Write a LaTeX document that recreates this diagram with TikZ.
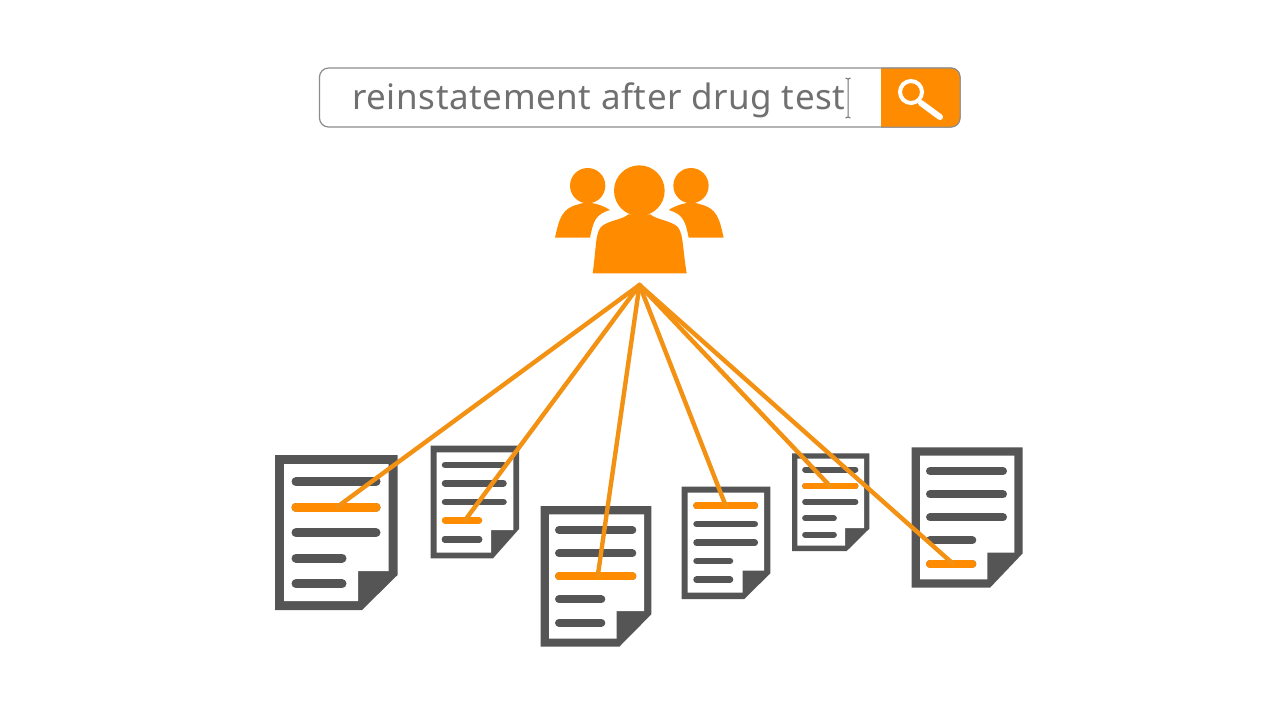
\documentclass[tikz,border=0pt]{standalone}
\usepackage{fontspec}
\setmainfont{Noto Sans}[LetterSpace=1.6]
\definecolor{orangeA}{HTML}{FF8C00}
\definecolor{lineA}{HTML}{F39113}
\definecolor{darkA}{HTML}{555555}
\definecolor{textA}{HTML}{707070}
\definecolor{borderA}{HTML}{8C8C8C}
\tikzset{
  px/.style={x=0.5pt,y=-0.5pt},
  docbar/.style={line cap=round,draw=darkA},
  hot/.style={line cap=round,draw=orangeA},
  link/.style={draw=lineA,line width=2.2pt,line cap=round},
  person/.style={fill=orangeA},
}
\newcommand{\docshape}[8]{%
  \fill[darkA] (#1,#2) -- (#3,#2) -- (#3,\cuty) -- (\cutx,#4) -- (#1,#4) -- cycle;
  \fill[white] (#5,#6) -- (#7,#6) -- (#7,\foldy) -- (\foldx,\foldy) -- (\foldx,#8) -- (#5,#8) -- cycle;
}
\newcommand{\docbars}[9]{%
  \draw[docbar,line width=#4*0.5pt] (#1,#5) -- (#2,#5);
  \draw[docbar,line width=#4*0.5pt] (#1,#6) -- (#2,#6);
  \draw[docbar,line width=#4*0.5pt] (#1,#7) -- (#2,#7);
  \draw[docbar,line width=#4*0.5pt] (#1,#8) -- (#3,#8);
  \draw[docbar,line width=#4*0.5pt] (#1,#9) -- (#3,#9);
}
\begin{document}
\begin{tikzpicture}[px]
\useasboundingbox (0,0) rectangle (1280,720);
\fill[white] (0,0) rectangle (1280,720);

% search bar
\draw[borderA,line width=0.6pt,fill=white,rounded corners=4.5pt] (319.5,68) rectangle (960,127);
\fill[orangeA,rounded corners=4.5pt] (881,68) -- (960,68) -- (960,127) -- (881,127) [sharp corners] -- cycle;
\fill[orangeA] (881,68) rectangle (895,127);
\draw[borderA,line width=0.5pt,rounded corners=4.5pt] (881,68) -- (960,68) -- (960,127) -- (881,127);
\node[anchor=base west,inner sep=0pt,text=textA,font=\fontsize{17.5}{20}\selectfont] (query) at (352,109) {reinstatement after drug test};
\draw[draw=textA,line width=0.5pt] (848,79) -- (848,117) (845.5,78) -- (848,79) -- (850.5,78) (845.5,118) -- (848,117) -- (850.5,118);
% magnifier
\draw[white,line width=2pt] (911,92) circle (11);
\draw[white,line width=3pt,line cap=round] (921,103) -- (940,117);

% people
\begin{scope}[shift={(540,155)},x=0.16667pt,y=-0.16667pt]
  \fill[person] (143,92) circle (53);
  \fill[person] (45,248) .. controls (58,190) and (65,160) .. (115,148)
     .. controls (135,140) and (170,140) .. (210,165)
     .. controls (165,178) and (160,200) .. (150,248) -- cycle;
  \fill[person] (453,92) circle (53);
  \fill[person] (551,248) .. controls (538,190) and (531,160) .. (481,148)
     .. controls (461,140) and (426,140) .. (386,165)
     .. controls (431,178) and (436,200) .. (446,248) -- cycle;
  \fill[person] (298,107) circle (76);
  \fill[person] (158,355) .. controls (170,270) and (165,225) .. (190,210)
     .. controls (215,195) and (250,192) .. (265,178)
     -- (331,178)
     .. controls (346,192) and (381,195) .. (406,210)
     .. controls (431,225) and (426,270) .. (440,355) -- cycle;
\end{scope}

% doc 1
\def\cuty{575}\def\cutx{362}\def\foldx{358}\def\foldy{571}
\docshape{275}{455}{397.5}{610}{284}{464}{388.5}{601}
\docbars{296}{376}{342}{9}{481.7}{507}{532.7}{558}{583.7}
\draw[hot,line width=4.5pt] (296,507) -- (376,507);
\coordinate (hit1) at (337,507);
% doc 2
\def\cuty{529}\def\cutx{493}\def\foldx{491}\def\foldy{530}
\docshape{430.7}{445.7}{519}{558.3}{436.7}{452.3}{513.3}{552.7}
\docbars{445}{503.5}{479}{6.5}{465}{483.3}{502}{539.3}{539.3}
\draw[hot,line width=3.25pt] (445,520.3) -- (479,520.3);
\coordinate (hit2) at (465,520.3);
% doc 3
\def\cuty{614.3}\def\cutx{619.3}\def\foldx{616.7}\def\foldy{611}
\docshape{540.7}{506}{651.3}{646.7}{549}{514.3}{644}{638.7}
\docbars{559}{632.3}{601.3}{8}{530}{553.3}{576.3}{599.3}{622.7}
\draw[hot,line width=4pt] (559,576.3) -- (632.3,576.3);
\coordinate (hit3) at (597.7,576.3);
% doc 4
\def\cuty{573.3}\def\cutx{744.3}\def\foldx{742.7}\def\foldy{570.7}
\docshape{681.7}{486.7}{770.3}{599}{687.7}{492.7}{764}{592.7}
\docbars{696.5}{754.8}{730}{6.5}{505.7}{524}{542.7}{561}{579.7}
\draw[hot,line width=3.25pt] (696.5,505.7) -- (754.8,505.7);
\coordinate (hit4) at (725.7,505.7);
% doc 5
\def\cuty{528.7}\def\cutx{846.7}\def\foldx{845}\def\foldy{528}
\docshape{792}{453.3}{869.3}{551}{797.3}{458.7}{864}{545.7}
\docbars{805}{855.5}{834}{5.7}{469.7}{486}{502}{518.3}{534.7}
\draw[hot,line width=2.85pt] (805,486) -- (855.5,486);
\coordinate (hit5) at (830,486);
% doc 6
\def\cuty{553.3}\def\cutx{990}\def\foldx{987.3}\def\foldy{552.7}
\docshape{911.7}{447.3}{1022.7}{587.7}{920}{455.7}{1014.3}{579.3}
\docbars{930}{1003}{972.3}{8}{471}{494.3}{517.3}{540.3}{563.7}
\draw[hot,line width=4pt] (930,563.7) -- (972.3,563.7);
\coordinate (hit6) at (953,563.7);

% connectors
\coordinate (hub) at (639.5,285);
\foreach \t in {1,...,6} \draw[link] (hub) -- (hit\t);
\end{tikzpicture}
\end{document}
